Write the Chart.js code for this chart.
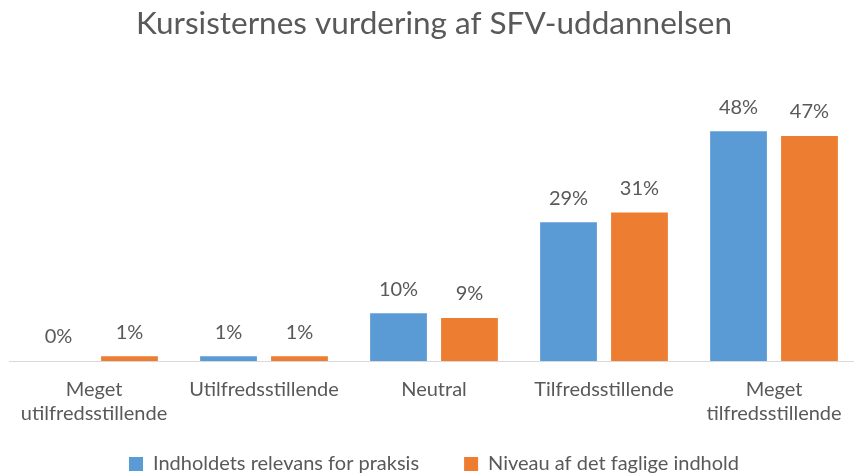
<!DOCTYPE html>
<html>
<head>
<meta charset="utf-8">
<script src="https://cdn.jsdelivr.net/npm/chart.js@4/dist/chart.umd.min.js"></script>
<style>
html,body{margin:0;padding:0;background:#fff;overflow:hidden;width:854px;height:476px;}
#wrap{position:absolute;left:0;top:0;width:860px;height:476px;}
</style>
</head>
<body>
<div id="wrap"><canvas id="c" width="860" height="476"></canvas></div>
<script>
const categories = [["Meget","utilfredsstillende"],"Utilfredsstillende","Neutral","Tilfredsstillende",["Meget","tilfredsstillende"]];
const seriesNames = ["Indholdets relevans for praksis","Niveau af det faglige indhold"];
const relevans = [0, 1, 10, 29, 48];
const niveau = [1, 1, 9, 31, 47];

const FONT = "Lato, 'Open Sans', sans-serif";
const GREY = "#595959";

const valueLabels = {
  id: "valueLabels",
  afterLayout(chart) {
    // let the two-line category labels extend below the (shortened) axis box
    chart.scales.x.bottom = chart.height;
  },
  afterDatasetsDraw(chart) {
    const ctx = chart.ctx;
    ctx.save();
    ctx.font = "20px " + FONT;
    ctx.fillStyle = GREY;
    ctx.textAlign = "center";
    ctx.textBaseline = "middle";
    chart.data.datasets.forEach((ds, i) => {
      const meta = chart.getDatasetMeta(i);
      meta.data.forEach((bar, j) => {
        ctx.fillText(ds.data[j] + "%", bar.x, bar.y - 24);
      });
    });
    ctx.restore();
  }
};

new Chart(document.getElementById("c"), {
  type: "bar",
  data: {
    labels: categories,
    datasets: [
      { label: seriesNames[0], data: relevans, backgroundColor: "#5b9bd5", categoryPercentage: 0.835, barPercentage: 0.8 },
      { label: seriesNames[1], data: niveau, backgroundColor: "#ed7d31", categoryPercentage: 0.835, barPercentage: 0.8 }
    ]
  },
  options: {
    responsive: false,
    animation: false,
    layout: { padding: { left: 9, right: 1, top: 0, bottom: -8 } },
    plugins: {
      title: {
        display: true,
        text: "Kursisternes vurdering af SFV-uddannelsen",
        color: GREY,
        font: { family: FONT, size: 31.5, weight: "normal", lineHeight: 1.2 },
        padding: { top: 5, bottom: 31 }
      },
      legend: {
        position: "bottom",
        labels: {
          color: GREY,
          font: { family: FONT, size: 20, lineHeight: 1.2 },
          boxWidth: 14,
          boxHeight: 14,
          padding: 45
        }
      },
      tooltip: { enabled: false }
    },
    scales: {
      x: {
        grid: { display: false, drawTicks: false },
        border: { display: true, color: "#d9d9d9" },
        ticks: { color: GREY, font: { family: FONT, size: 20, lineHeight: 1.2 }, padding: 17, maxRotation: 0, autoSkip: false },
        afterFit: (scale) => { scale.height = 48; }
      },
      y: {
        display: false,
        min: 0,
        max: 60
      }
    }
  },
  plugins: [valueLabels]
});
</script>
</body>
</html>
